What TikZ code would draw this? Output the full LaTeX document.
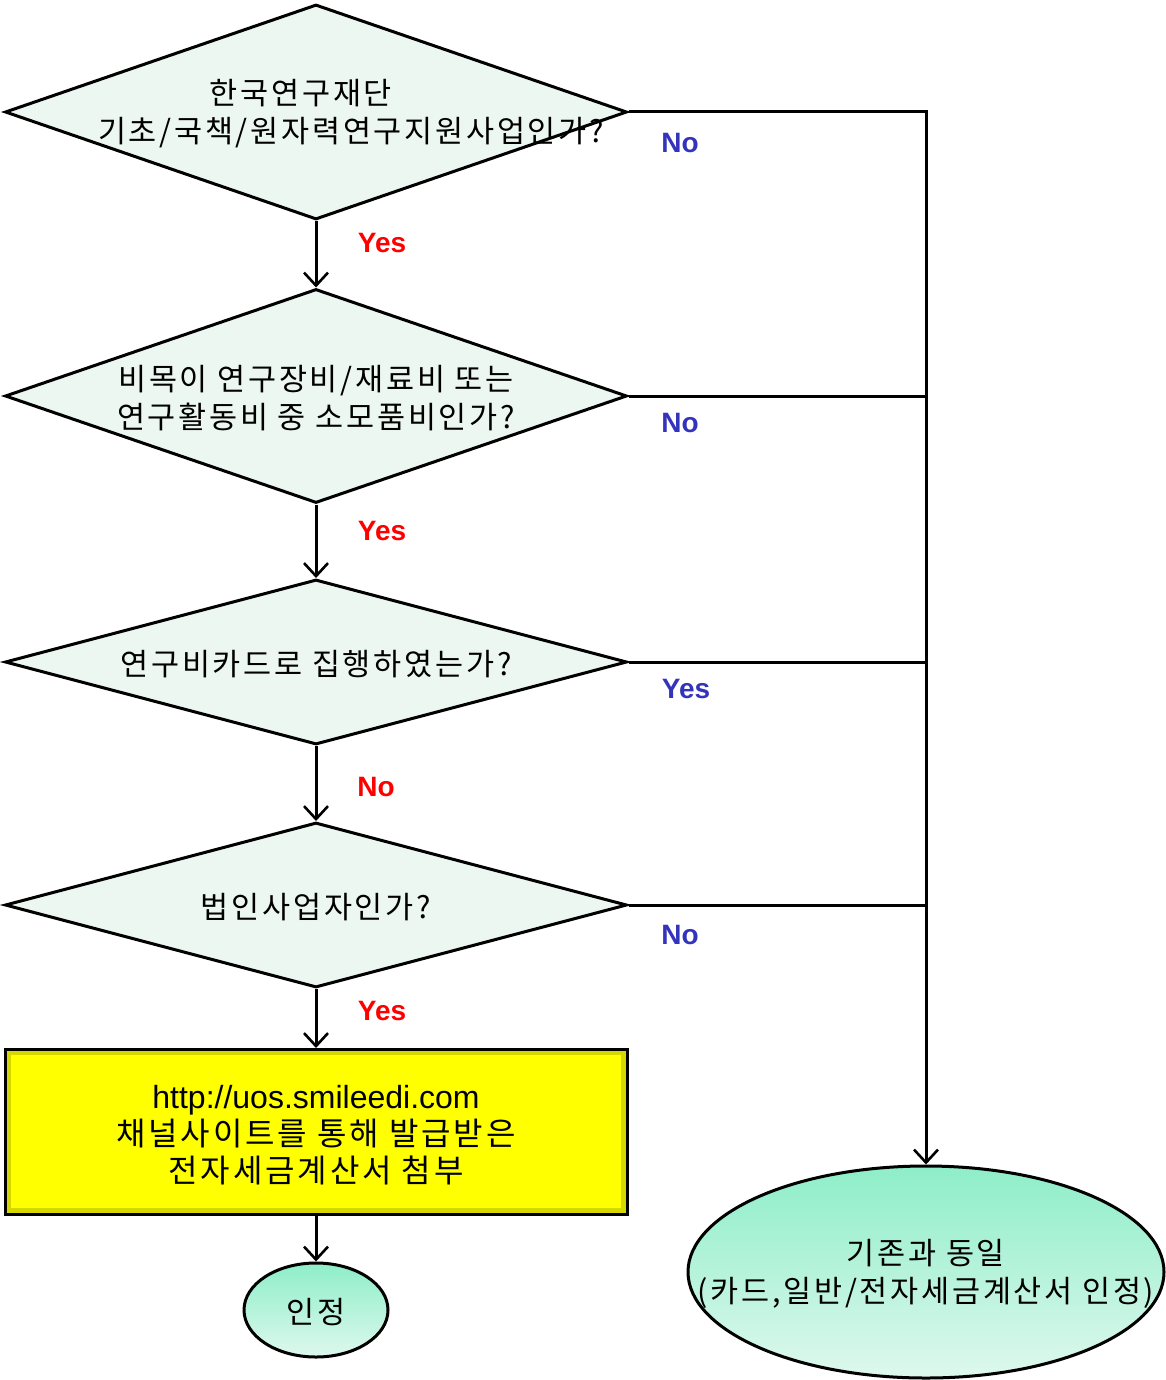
\documentclass[tikz,border=0pt]{standalone}
\usepackage{fontspec}
\setmainfont{Liberation Sans}
\newfontfamily\kr[LetterSpace=9]{Noto Sans CJK KR}
\usetikzlibrary{shapes.geometric,arrows.meta}

\definecolor{qfill}{RGB}{237,247,241}
\definecolor{mintTop}{RGB}{142,238,200}
\definecolor{mintBot}{RGB}{222,248,238}
\definecolor{noBlue}{RGB}{51,51,187}
\definecolor{boxEdge}{RGB}{215,215,0}
\definecolor{boxFill}{RGB}{255,255,0}

\begin{document}
\begin{tikzpicture}[
  % one unit is one pixel of the 1165 x 1380 sheet, y runs downward
  x=1pt, y=-1pt,
  line width=3pt,
  question/.style={diamond, draw, fill=qfill, inner sep=0pt,
    minimum width=622pt},
  qtext/.style={font=\kr\fontsize{30.5}{38}\selectfont, align=center},
  endstate/.style={ellipse, draw, top color=mintTop, bottom color=mintBot,
    inner sep=0pt},
  redlbl/.style={font=\bfseries\fontsize{28}{30}\selectfont, text=red},
  bluelbl/.style={font=\bfseries\fontsize{28}{30}\selectfont, text=noBlue},
  flow/.style={-{Straight Barb[length=13pt,width=24pt,line width=2.6pt]}}
]
\useasboundingbox (0,0) rectangle (1165,1380);

% the four questions, stacked down the left column
\node[question, minimum height=215pt] (q1) at (316,112) {};
\node[question, minimum height=214pt] (q2) at (316,396) {};
\node[question, minimum height=165pt] (q3) at (316,662) {};
\node[question, minimum height=165pt] (q4) at (316,905) {};

\node[qtext] (q1t) at (351,114) {한국연구재단\hspace*{100pt}\\기초/국책/원자력연구지원사업인가?};
\node[qtext] (q2t) at (316,398) {비목이 연구장비/재료비 또는\\연구활동비 중 소모품비인가?};
\node[qtext] (q3t) at (316,664) {연구비카드로 집행하였는가?};
\node[qtext] (q4t) at (316,907) {법인사업자인가?};

% yellow box with bevelled rim
\node[draw, line width=3pt, fill=boxEdge, minimum width=622pt,
  minimum height=165pt, inner sep=0pt,
  path picture={\fill[boxFill] ([shift={(6pt,-5pt)}]path picture bounding box.north west)
    rectangle ([shift={(-6pt,7pt)}]path picture bounding box.south east);}]
  (issue) at (316,1132) {};
\node[align=center, font=\fontsize{32}{37}\selectfont] (issuet) at (316,1135)
  {http://uos.smileedi.com\\{\kr 채널사이트를 통해 발급받은}\\{\kr 전자세금계산서 첨부}};

% end states
\node[endstate, minimum width=144pt, minimum height=94pt] (accept) at (316,1310) {};
\node[qtext] (acceptt) at (316,1312) {인정};
\node[endstate, minimum width=476pt, minimum height=212pt] (same) at (926,1272) {};
\node[qtext] (samet) at (926,1274) {기존과 동일\\(카드,일반/전자세금계산서 인정)};

% main path
\draw[flow] (q1.south) -- (q2.north);
\draw[flow] (q2.south) -- (q3.north);
\draw[flow] (q3.south) -- (q4.north);
\draw[flow] (q4.south) -- (issue.north);
\draw[flow] (issue.south) -- (accept.north);

% exits to the right
\draw[flow] (q1.east) -| (same.north);
\draw (q2.east) -- (q2.east -| same.north);
\draw (q3.east) -- (q3.east -| same.north);
\draw (q4.east) -- (q4.east -| same.north);

% branch labels
\node[redlbl] (y1) at (382,243) {Yes};
\node[redlbl] (y2) at (382,531) {Yes};
\node[redlbl] (n3) at (376,787) {No};
\node[redlbl] (y4) at (382,1011) {Yes};
\node[bluelbl] (n1) at (680,143) {No};
\node[bluelbl] (n2) at (680,423) {No};
\node[bluelbl] (y3) at (686,689) {Yes};
\node[bluelbl] (n4) at (680,935) {No};

\end{tikzpicture}
\end{document}
